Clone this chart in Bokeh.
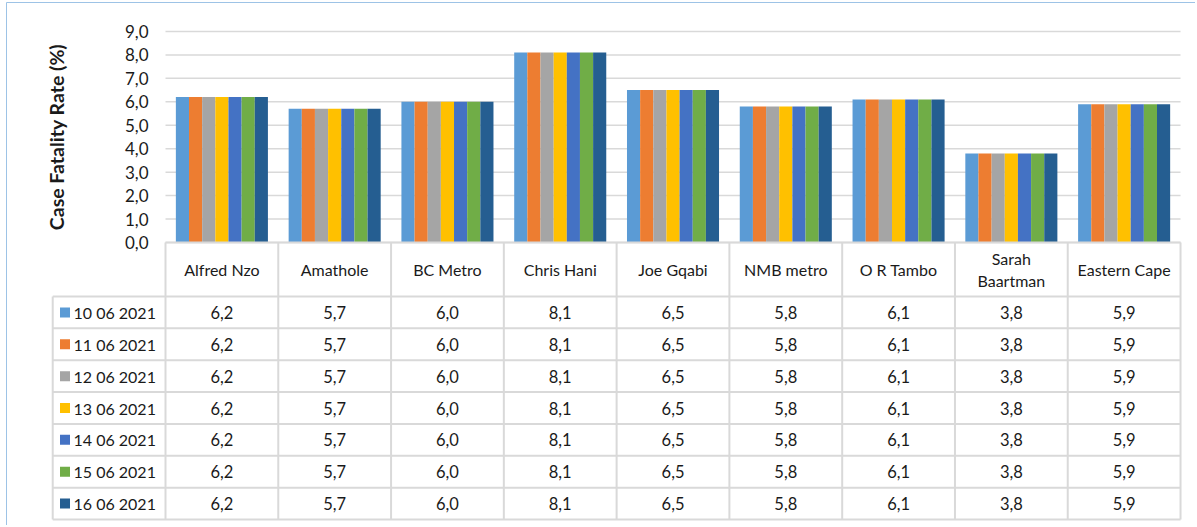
import math
from bokeh.plotting import figure
from bokeh.models import Range1d
from bokeh.embed import file_html
from bokeh.resources import INLINE
from bokeh.core.properties import value

# ---------------- data ----------------
categories = ["Alfred Nzo", "Amathole", "BC Metro", "Chris Hani", "Joe Gqabi",
              "NMB metro", "O R Tambo", "Sarah Baartman", "Eastern Cape"]
series_names = ["10 06 2021", "11 06 2021", "12 06 2021", "13 06 2021",
                "14 06 2021", "15 06 2021", "16 06 2021"]
cfr_10_06 = [6.2, 5.7, 6.0, 8.1, 6.5, 5.8, 6.1, 3.8, 5.9]
cfr_11_06 = [6.2, 5.7, 6.0, 8.1, 6.5, 5.8, 6.1, 3.8, 5.9]
cfr_12_06 = [6.2, 5.7, 6.0, 8.1, 6.5, 5.8, 6.1, 3.8, 5.9]
cfr_13_06 = [6.2, 5.7, 6.0, 8.1, 6.5, 5.8, 6.1, 3.8, 5.9]
cfr_14_06 = [6.2, 5.7, 6.0, 8.1, 6.5, 5.8, 6.1, 3.8, 5.9]
cfr_15_06 = [6.2, 5.7, 6.0, 8.1, 6.5, 5.8, 6.1, 3.8, 5.9]
cfr_16_06 = [6.2, 5.7, 6.0, 8.1, 6.5, 5.8, 6.1, 3.8, 5.9]
series_values = [cfr_10_06, cfr_11_06, cfr_12_06, cfr_13_06, cfr_14_06, cfr_15_06, cfr_16_06]
colors = ["#5B9BD5", "#ED7D31", "#A5A5A5", "#FFC000", "#4472C4", "#70AD47", "#255E91"]
y_ticks = [0, 1, 2, 3, 4, 5, 6, 7, 8, 9]
y_label = "Case Fatality Rate (%)"

# ---------------- style / layout constants (pixels) ----------------
FONT = "Lato"
TXT = "#1a1a1a"
GRID = "#D9D9D9"
BORDER = "#9DC3E6"
n_cat = len(categories)
n_ser = len(series_names)
bw = 0.1166                  # bar width in category units

W, H = 1195, 525             # figure size
FL, FT = 5, 1                # frame left / top (px)
CAT0 = 165                   # px of first category edge
CAT_W = 112.78               # px per category
ZERO = 242                   # px of value 0
VAL_PX = 23.45               # px per value unit
ROW_PX = 31.86               # px per table row
header_top = n_ser + 1.695   # table units (header row height)

def xd(px):                  # pixel -> category units
    return (px - CAT0) / CAT_W

def yd(px):                  # pixel -> value units
    return (ZERO - px) / VAL_PX

def fmt(v):
    return f"{v:.1f}".replace(".", ",")

def wrap(s):
    if len(s) > 13 and " " in s:
        return s.replace(" ", "\n", 1)
    return s

p = figure(width=W, height=H, output_backend="svg", toolbar_location=None,
           x_range=Range1d(xd(FL), xd(W)), y_range=Range1d(yd(H), yd(FT)),
           x_axis_location=None, y_axis_location=None,
           min_border_left=FL, min_border_right=0, min_border_top=FT, min_border_bottom=0)
p.extra_y_ranges = {"table": Range1d(header_top - (H - ZERO) / ROW_PX,
                                     header_top + (ZERO - FT) / ROW_PX)}
p.outline_line_color = None
p.grid.grid_line_color = None

# ---- outer chart border (top + left) ----
p.segment(x0=[xd(6), xd(6)], x1=[xd(W), xd(6)], y0=[yd(2), yd(2)], y1=[yd(2), yd(H)],
          line_color=BORDER, line_width=1)

# ---- value gridlines + tick labels ----
p.segment(x0=[0] * len(y_ticks), x1=[n_cat] * len(y_ticks), y0=y_ticks, y1=y_ticks,
          line_color=GRID, line_width=1.5)
p.text(x=[xd(148)] * len(y_ticks), y=y_ticks, text=[fmt(t) for t in y_ticks],
       text_align="right", text_baseline="middle",
       text_font=value(FONT), text_font_size="17px", text_color=TXT)
p.text(x=[xd(56)], y=[(y_ticks[0] + y_ticks[-1]) / 2], text=[y_label], angle=math.pi / 2,
       text_align="center", text_baseline="middle",
       text_font=value(FONT), text_font_size="19.5px", text_font_style="bold", text_color=TXT)

# ---- bars ----
for j, (vals, col) in enumerate(zip(series_values, colors)):
    xs = [i + 0.5 + (j - (n_ser - 1) / 2) * bw for i in range(n_cat)]
    p.vbar(x=xs, top=vals, bottom=0, width=bw, fill_color=col, line_color=None)

# ---- data table ----
T = "table"
hy = list(range(n_ser + 1))
p.segment(x0=[-1] * len(hy), x1=[n_cat] * len(hy), y0=hy, y1=hy,
          line_color=GRID, line_width=2, y_range_name=T)
p.segment(x0=[0], x1=[n_cat], y0=[header_top], y1=[header_top],
          line_color=GRID, line_width=2, y_range_name=T)
vx = list(range(n_cat + 1))
p.segment(x0=vx, x1=vx, y0=[0] * len(vx), y1=[header_top] * len(vx),
          line_color=GRID, line_width=2, y_range_name=T)
p.segment(x0=[-1], x1=[-1], y0=[0], y1=[n_ser], line_color=GRID, line_width=2, y_range_name=T)

p.text(x=[i + 0.5 for i in range(n_cat)], y=[(n_ser + header_top) / 2] * n_cat,
       text=[wrap(c) for c in categories], text_align="center", text_baseline="middle",
       text_font=value(FONT), text_font_size="16px", text_color=TXT, text_line_height=1.15,
       y_range_name=T)

for j, (name, vals, col) in enumerate(zip(series_names, series_values, colors)):
    yc = n_ser - j - 0.5
    p.scatter(x=[xd(64.5)], y=[yc], marker="square", size=10, fill_color=col, line_color=None,
              y_range_name=T)
    p.text(x=[xd(73)], y=[yc], text=[name], text_align="left", text_baseline="middle",
           text_font=value(FONT), text_font_size="16px", text_color=TXT, y_range_name=T)
    p.text(x=[i + 0.5 for i in range(n_cat)], y=[yc] * n_cat, text=[fmt(v) for v in vals],
           text_align="center", text_baseline="middle",
           text_font=value(FONT), text_font_size="16.5px", text_color=TXT, y_range_name=T)

open("out.html", "w").write(file_html(p, INLINE))
